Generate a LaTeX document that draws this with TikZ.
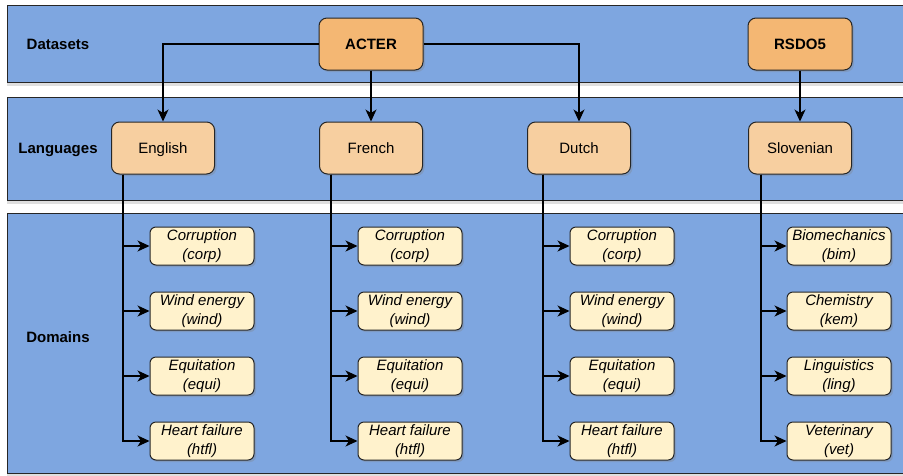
\documentclass[tikz,border=0pt]{standalone}
\usepackage{fontspec}
\setmainfont{Liberation Sans}
\usetikzlibrary{arrows.meta,shadows}
\definecolor{bandblue}{HTML}{7EA6E0}
\definecolor{setorange}{HTML}{F4B773}
\definecolor{langorange}{HTML}{F7CFA0}
\definecolor{domyellow}{HTML}{FFF2CC}
\definecolor{edgegray}{HTML}{262626}

\begin{document}
\begin{tikzpicture}[x=1pt,y=-1pt,
    every node/.style={font=\fontsize{15}{19}\selectfont},
    band/.style={draw=edgegray,fill=bandblue,line width=1pt,
        drop shadow={shadow xshift=0pt,shadow yshift=-4pt,opacity=0.25}},
    bandlabel/.style={font=\fontsize{15}{19}\selectfont\bfseries},
    setbox/.style={draw=edgegray,fill=setorange,line width=1pt,rounded corners=8pt,
        minimum width=104pt,minimum height=52pt,text depth=0pt,
        font=\fontsize{15}{19}\selectfont\bfseries,
        drop shadow={shadow xshift=2pt,shadow yshift=-2pt,opacity=0.3}},
    langbox/.style={draw=edgegray,fill=langorange,line width=1pt,rounded corners=8pt,
        minimum width=103pt,minimum height=52pt,text depth=0pt,
        drop shadow={shadow xshift=2pt,shadow yshift=-2pt,opacity=0.3}},
    dombox/.style={draw=edgegray,fill=domyellow,line width=1pt,rounded corners=6pt,
        minimum width=104pt,minimum height=38pt,inner sep=2pt,align=center,
        font=\fontsize{15}{19}\selectfont\itshape,
        drop shadow={shadow xshift=2pt,shadow yshift=-2pt,opacity=0.3}},
    arr/.style={-{Stealth[length=12pt,width=11pt,inset=3.5pt]},line width=1.1pt,draw=black}
]
    \useasboundingbox (0,0) rectangle (903,475);

    % bands
    \draw[band] (7,5) rectangle (908,82);
    \draw[band] (7,97) rectangle (908,200);
    \draw[band] (7,213) rectangle (908,473);

    \node[bandlabel,text depth=0pt] (ds-lbl) at (58,44) {Datasets};
    \node[bandlabel,text depth=0pt] (lang-lbl) at (58,148) {Languages};
    \node[bandlabel,text depth=0pt] (dom-lbl) at (58,337) {Domains};

    % datasets
    \node[setbox] (acter) at (371,44) {ACTER};
    \node[setbox] (rsdo) at (800,44) {RSDO5};

    % languages
    \node[langbox] (en) at (163,148) {English};
    \node[langbox] (fr) at (371,148) {French};
    \node[langbox] (nl) at (579,148) {Dutch};
    \node[langbox] (sl) at (800,148) {Slovenian};

    % domains
    \node[dombox] (en1) at (202,246) {Corruption\\(corp)};
    \node[dombox] (en2) at (202,311) {Wind energy\\(wind)};
    \node[dombox] (en3) at (202,376) {Equitation\\(equi)};
    \node[dombox] (en4) at (202,441) {Heart failure\\(htfl)};

    \node[dombox] (fr1) at (410,246) {Corruption\\(corp)};
    \node[dombox] (fr2) at (410,311) {Wind energy\\(wind)};
    \node[dombox] (fr3) at (410,376) {Equitation\\(equi)};
    \node[dombox] (fr4) at (410,441) {Heart failure\\(htfl)};

    \node[dombox] (nl1) at (622,246) {Corruption\\(corp)};
    \node[dombox] (nl2) at (622,311) {Wind energy\\(wind)};
    \node[dombox] (nl3) at (622,376) {Equitation\\(equi)};
    \node[dombox] (nl4) at (622,441) {Heart failure\\(htfl)};

    \node[dombox] (sl1) at (839,246) {Biomechanics\\(bim)};
    \node[dombox] (sl2) at (839,311) {Chemistry\\(kem)};
    \node[dombox] (sl3) at (839,376) {Linguistics\\(ling)};
    \node[dombox] (sl4) at (839,441) {Veterinary\\(vet)};

    % dataset -> language
    \draw[arr] (acter.west) -| (en);
    \draw[arr] (acter) -- (fr);
    \draw[arr] (acter.east) -| (nl);
    \draw[arr] (rsdo) -- (sl);

    % language -> domain
    \draw[arr] ([xshift=12pt]en.south west) |- (en1);
    \draw[arr] ([xshift=12pt]en.south west) |- (en2);
    \draw[arr] ([xshift=12pt]en.south west) |- (en3);
    \draw[arr] ([xshift=12pt]en.south west) |- (en4);

    \draw[arr] ([xshift=12pt]fr.south west) |- (fr1);
    \draw[arr] ([xshift=12pt]fr.south west) |- (fr2);
    \draw[arr] ([xshift=12pt]fr.south west) |- (fr3);
    \draw[arr] ([xshift=12pt]fr.south west) |- (fr4);

    \draw[arr] ([xshift=16pt]nl.south west) |- (nl1);
    \draw[arr] ([xshift=16pt]nl.south west) |- (nl2);
    \draw[arr] ([xshift=16pt]nl.south west) |- (nl3);
    \draw[arr] ([xshift=16pt]nl.south west) |- (nl4);

    \draw[arr] ([xshift=13pt]sl.south west) |- (sl1);
    \draw[arr] ([xshift=13pt]sl.south west) |- (sl2);
    \draw[arr] ([xshift=13pt]sl.south west) |- (sl3);
    \draw[arr] ([xshift=13pt]sl.south west) |- (sl4);
\end{tikzpicture}
\end{document}
